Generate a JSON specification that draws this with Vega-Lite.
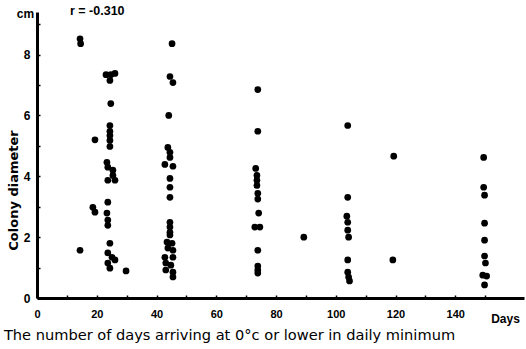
{
  "$schema": "https://vega.github.io/schema/vega-lite/v6.json",
  "width": 487,
  "height": 286,
  "autosize": {"type": "none"},
  "padding": {"left": 37, "top": 12, "right": 2, "bottom": 51},
  "background": "white",
  "title": {"text": "r = -0.310", "anchor": "start", "frame": "group", "dx": 33, "dy": 16, "offset": 0, "baseline": "middle", "font": "Liberation Sans", "fontSize": 12.5, "fontWeight": "bold", "color": "black"},
  "data": {
    "values": [
      {"days": 14.4, "diameter": 8.52}, {"days": 14.6, "diameter": 8.36}, {"days": 14.4, "diameter": 1.57},
      {"days": 19.4, "diameter": 5.2}, {"days": 18.7, "diameter": 2.98}, {"days": 19.4, "diameter": 2.82},
      {"days": 23.1, "diameter": 7.34}, {"days": 24.7, "diameter": 7.34}, {"days": 26.1, "diameter": 7.38}, {"days": 24.4, "diameter": 7.15},
      {"days": 24.7, "diameter": 6.39}, {"days": 24.4, "diameter": 5.67}, {"days": 24.4, "diameter": 5.48}, {"days": 24.4, "diameter": 5.34},
      {"days": 24.4, "diameter": 5.18}, {"days": 24.4, "diameter": 4.98}, {"days": 23.4, "diameter": 4.46}, {"days": 23.7, "diameter": 4.3},
      {"days": 25.4, "diameter": 4.2}, {"days": 25.4, "diameter": 4.03}, {"days": 23.7, "diameter": 3.87}, {"days": 26.1, "diameter": 3.87},
      {"days": 23.7, "diameter": 3.15}, {"days": 23.4, "diameter": 2.79}, {"days": 23.7, "diameter": 2.56}, {"days": 23.7, "diameter": 2.39},
      {"days": 24.4, "diameter": 1.8}, {"days": 23.7, "diameter": 1.48}, {"days": 25.1, "diameter": 1.34}, {"days": 26.1, "diameter": 1.25},
      {"days": 23.7, "diameter": 1.15}, {"days": 24.4, "diameter": 0.98},
      {"days": 29.8, "diameter": 0.89},
      {"days": 45.2, "diameter": 8.36}, {"days": 44.5, "diameter": 7.28}, {"days": 45.5, "diameter": 7.08}, {"days": 44.1, "diameter": 6.0},
      {"days": 43.8, "diameter": 4.95}, {"days": 44.5, "diameter": 4.79}, {"days": 44.5, "diameter": 4.62}, {"days": 42.8, "diameter": 4.39},
      {"days": 45.5, "diameter": 4.33}, {"days": 44.5, "diameter": 3.93}, {"days": 44.5, "diameter": 3.64}, {"days": 44.5, "diameter": 3.31},
      {"days": 44.5, "diameter": 2.49}, {"days": 44.5, "diameter": 2.33}, {"days": 44.5, "diameter": 2.16}, {"days": 44.5, "diameter": 2.07},
      {"days": 43.5, "diameter": 1.84}, {"days": 45.2, "diameter": 1.8}, {"days": 43.8, "diameter": 1.64}, {"days": 45.5, "diameter": 1.57},
      {"days": 42.8, "diameter": 1.34}, {"days": 45.5, "diameter": 1.34}, {"days": 43.1, "diameter": 1.15}, {"days": 44.8, "diameter": 1.08},
      {"days": 43.1, "diameter": 0.92}, {"days": 45.5, "diameter": 0.85}, {"days": 45.5, "diameter": 0.69},
      {"days": 73.9, "diameter": 6.85}, {"days": 73.9, "diameter": 5.48}, {"days": 73.2, "diameter": 4.26}, {"days": 73.6, "diameter": 4.03},
      {"days": 73.6, "diameter": 3.87}, {"days": 73.6, "diameter": 3.7}, {"days": 73.9, "diameter": 3.44}, {"days": 73.9, "diameter": 3.25},
      {"days": 74.2, "diameter": 2.79}, {"days": 72.9, "diameter": 2.33}, {"days": 74.6, "diameter": 2.33}, {"days": 73.9, "diameter": 1.57},
      {"days": 73.9, "diameter": 1.05}, {"days": 73.9, "diameter": 0.92}, {"days": 73.9, "diameter": 0.82},
      {"days": 89.3, "diameter": 2.0},
      {"days": 104.0, "diameter": 5.67}, {"days": 104.0, "diameter": 3.31}, {"days": 103.7, "diameter": 2.69}, {"days": 104.0, "diameter": 2.49},
      {"days": 104.0, "diameter": 2.23}, {"days": 104.3, "diameter": 2.0}, {"days": 104.0, "diameter": 1.25}, {"days": 104.0, "diameter": 0.85},
      {"days": 104.3, "diameter": 0.69}, {"days": 104.6, "diameter": 0.56},
      {"days": 119.4, "diameter": 4.66}, {"days": 119.1, "diameter": 1.25},
      {"days": 149.5, "diameter": 4.62}, {"days": 149.5, "diameter": 3.64}, {"days": 149.8, "diameter": 3.38}, {"days": 149.8, "diameter": 2.46},
      {"days": 149.8, "diameter": 1.9}, {"days": 149.8, "diameter": 1.38}, {"days": 150.1, "diameter": 1.15}, {"days": 149.2, "diameter": 0.75},
      {"days": 150.5, "diameter": 0.72}, {"days": 149.8, "diameter": 0.43}
    ]
  },
  "layer": [
    {
      "mark": {"type": "circle", "size": 45, "color": "black", "opacity": 1},
      "encoding": {
        "x": {
          "field": "days", "type": "quantitative",
          "scale": {"domain": [0, 163], "nice": false},
          "axis": {
            "values": [0, 10, 20, 30, 40, 50, 60, 70, 80, 90, 100, 110, 120, 130, 140, 150],
            "labelExpr": "datum.value % 20 == 0 && datum.value <= 140 ? datum.label : ''",
            "title": "The number of days arriving at 0°c or lower in daily minimum",
            "titleX": 192, "titleY": 37, "titleAlign": "center", "titleBaseline": "middle",
            "titleFont": "DejaVu Sans", "titleFontSize": 14.6, "titleFontWeight": "normal", "titleColor": "black",
            "labelFont": "Liberation Sans", "labelFontSize": 11, "labelFontWeight": "bold", "labelColor": "black",
            "labelPadding": 13, "labelFlush": false, "labelOverlap": false,
            "grid": false, "tickSize": -3, "tickWidth": 1.5, "tickColor": "black",
            "domainWidth": 3, "domainColor": "black"
          }
        },
        "y": {
          "field": "diameter", "type": "quantitative",
          "scale": {"domain": [0, 9.4], "nice": false},
          "axis": {
            "values": [0, 1, 2, 3, 4, 5, 6, 7, 8, 9],
            "labelExpr": "datum.value % 2 == 0 ? datum.label : ''",
            "title": "Colony diameter",
            "titleX": -24, "titleY": 178, "titleAlign": "center", "titleBaseline": "middle", "titleAngle": -90,
            "titleFont": "DejaVu Sans", "titleFontSize": 13, "titleFontWeight": "bold", "titleColor": "black",
            "labelFont": "Liberation Sans", "labelFontSize": 12, "labelFontWeight": "bold", "labelColor": "black",
            "labelPadding": 10, "labelFlush": false, "labelOverlap": false,
            "grid": false, "tickSize": -3, "tickWidth": 1.5, "tickColor": "black",
            "domainWidth": 3, "domainColor": "black"
          }
        }
      }
    },
    {
      "mark": {"type": "circle", "opacity": 0},
      "encoding": {
        "x": {
          "field": "days", "type": "quantitative",
          "axis": {
            "orient": "bottom", "title": "Days", "labels": false, "ticks": false, "domain": false, "grid": false,
            "titleX": 468, "titleY": 20, "titleAlign": "center", "titleBaseline": "middle",
            "titleFont": "Liberation Sans", "titleFontSize": 12, "titleFontWeight": "bold", "titleColor": "black"
          }
        },
        "y": {
          "field": "diameter", "type": "quantitative",
          "axis": {
            "orient": "left", "title": "cm", "labels": false, "ticks": false, "domain": false, "grid": false,
            "titleX": -12, "titleY": 1, "titleAngle": 0, "titleAlign": "center", "titleBaseline": "middle",
            "titleFont": "Liberation Sans", "titleFontSize": 12, "titleFontWeight": "bold", "titleColor": "black"
          }
        }
      }
    }
  ],
  "resolve": {"axis": {"x": "independent", "y": "independent"}},
  "config": {"view": {"stroke": null}}
}
